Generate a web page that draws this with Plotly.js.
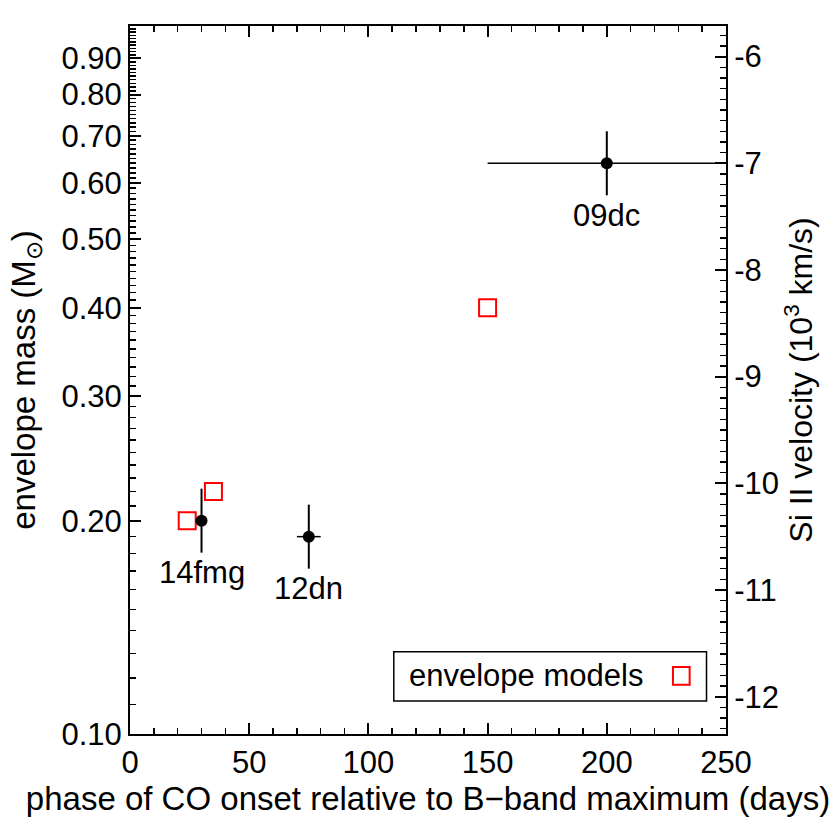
<!DOCTYPE html>
<html>
<head>
<meta charset="utf-8">
<script src="https://cdn.plot.ly/plotly-3.0.1.min.js"></script>
<style>html,body{margin:0;padding:0;background:#fff}#chart{width:830px;height:830px}</style>
</head>
<body>
<div id="chart"></div>
<script>
// Observed supernovae (Si II velocity, right axis)
const snNames = ['14fmg', '12dn', '09dc'];
const phaseObs = [30, 75, 200];
const phaseErr = [0, 5, 50];
const velObs = [-10.35, -10.5, -7.0];
const velErr = [0.3, 0.3, 0.3];

// Envelope models (envelope mass, left axis)
const phaseModel = [24, 35, 150];
const massModel = [0.20, 0.22, 0.40];

// Tick labels
const massTicks = [0.1, 0.2, 0.3, 0.4, 0.5, 0.6, 0.7, 0.8, 0.9];
const massTickText = ['0.10', '0.20', '0.30', '0.40', '0.50', '0.60', '0.70', '0.80', '0.90'];
const velTicks = [-12, -11, -10, -9, -8, -7, -6];
const velTickText = ['-12', '-11', '-10', '-9', '-8', '-7', '-6'];

const massMinor = [];
for (let i = 11; i <= 99; i++) massMinor.push(i / 100);

const FONT = 'Liberation Sans, Arial, Helvetica, sans-serif';

const traces = [
  {
    x: phaseModel, y: massModel, type: 'scatter', mode: 'markers',
    name: 'envelope models', xaxis: 'x', yaxis: 'y',
    marker: {symbol: 'square-open', size: 17, color: 'red', line: {width: 2, color: 'red'}},
    showlegend: false, hoverinfo: 'skip'
  },
  {
    x: phaseObs, y: velObs, type: 'scatter', mode: 'markers',
    xaxis: 'x', yaxis: 'y2',
    marker: {symbol: 'circle', size: 12, color: 'black'},
    error_y: {type: 'data', array: velErr, visible: true, color: 'black', thickness: 2, width: 0},
    error_x: {type: 'data', array: phaseErr, visible: true, color: 'black', thickness: 1.5, width: 0},
    showlegend: false, hoverinfo: 'skip'
  }
];

const annotations = snNames.map((n, i) => ({
  x: phaseObs[i], y: velObs[i], xref: 'x', yref: 'y2',
  text: n, showarrow: false, yshift: -52,
  font: {family: FONT, size: 31, color: 'black'}
}));

// legend box (text + symbol), drawn as annotation and shapes
annotations.push({
  xref: 'paper', yref: 'paper', x: 0.464, y: 0.082,
  xanchor: 'left', yanchor: 'middle', text: 'envelope models', showarrow: false,
  font: {family: FONT, size: 31, color: 'black'}
});

const shapes = [
  {type: 'rect', xref: 'paper', yref: 'paper', x0: 0.4426, x1: 0.9673, y0: 0.0466, y1: 0.1162,
   line: {color: 'black', width: 1.5}, fillcolor: 'white', layer: 'below'},
  {type: 'rect', xref: 'paper', yref: 'paper', x0: 0.9110, x1: 0.9390, y0: 0.0695, y1: 0.0945,
   line: {color: 'red', width: 2}}
];

const layout = {
  width: 830, height: 830,
  margin: {l: 130, r: 104, t: 26, b: 96},
  paper_bgcolor: 'white', plot_bgcolor: 'white',
  font: {family: FONT, size: 31, color: 'black'},
  showlegend: false,
  xaxis: {
    range: [0, 250], tickvals: [0, 50, 100, 150, 200, 250],
    ticks: 'inside', ticklen: 11, tickwidth: 2, tickcolor: 'black',
    minor: {dtick: 10, tick0: 0, ticks: 'inside', ticklen: 6, tickwidth: 1.5, tickcolor: 'black'},
    showline: true, linewidth: 2, linecolor: 'black', mirror: 'ticks',
    showgrid: false, zeroline: false,
    tickfont: {family: FONT, size: 31, color: 'black'},
    title: {text: 'phase of CO onset relative to B\u2212band maximum (days)', standoff: 5,
            font: {family: FONT, size: 33, color: 'black'}}
  },
  yaxis: {
    type: 'log', range: [-1, 0],
    tickmode: 'array', tickvals: massTicks, ticktext: massTickText,
    ticks: 'inside', ticklen: 11, tickwidth: 2, tickcolor: 'black',
    minor: {tickmode: 'array', tickvals: massMinor, ticks: 'inside', ticklen: 6, tickwidth: 1.5, tickcolor: 'black'},
    showline: true, linewidth: 2, linecolor: 'black',
    showgrid: false, zeroline: false,
    tickfont: {family: FONT, size: 31, color: 'black'},
    title: {text: 'envelope mass (M<sub>\u2299</sub>)', standoff: 16,
            font: {family: FONT, size: 33, color: 'black'}}
  },
  yaxis2: {
    overlaying: 'y', side: 'right',
    range: [-12.35, -5.713],
    tickmode: 'array', tickvals: velTicks, ticktext: velTickText,
    ticks: 'inside', ticklen: 11, tickwidth: 2, tickcolor: 'black',
    minor: {dtick: 0.1, tick0: 0, ticks: 'inside', ticklen: 6, tickwidth: 1.5, tickcolor: 'black'},
    showline: true, linewidth: 2, linecolor: 'black',
    showgrid: false, zeroline: false,
    tickfont: {family: FONT, size: 31, color: 'black'},
    title: {text: 'Si II velocity (10<sup>3</sup> km/s)', standoff: 6,
            font: {family: FONT, size: 32, color: 'black'}}
  },
  annotations: annotations,
  shapes: shapes
};

Plotly.newPlot('chart', traces, layout, {staticPlot: true, displayModeBar: false});
</script>
</body>
</html>
